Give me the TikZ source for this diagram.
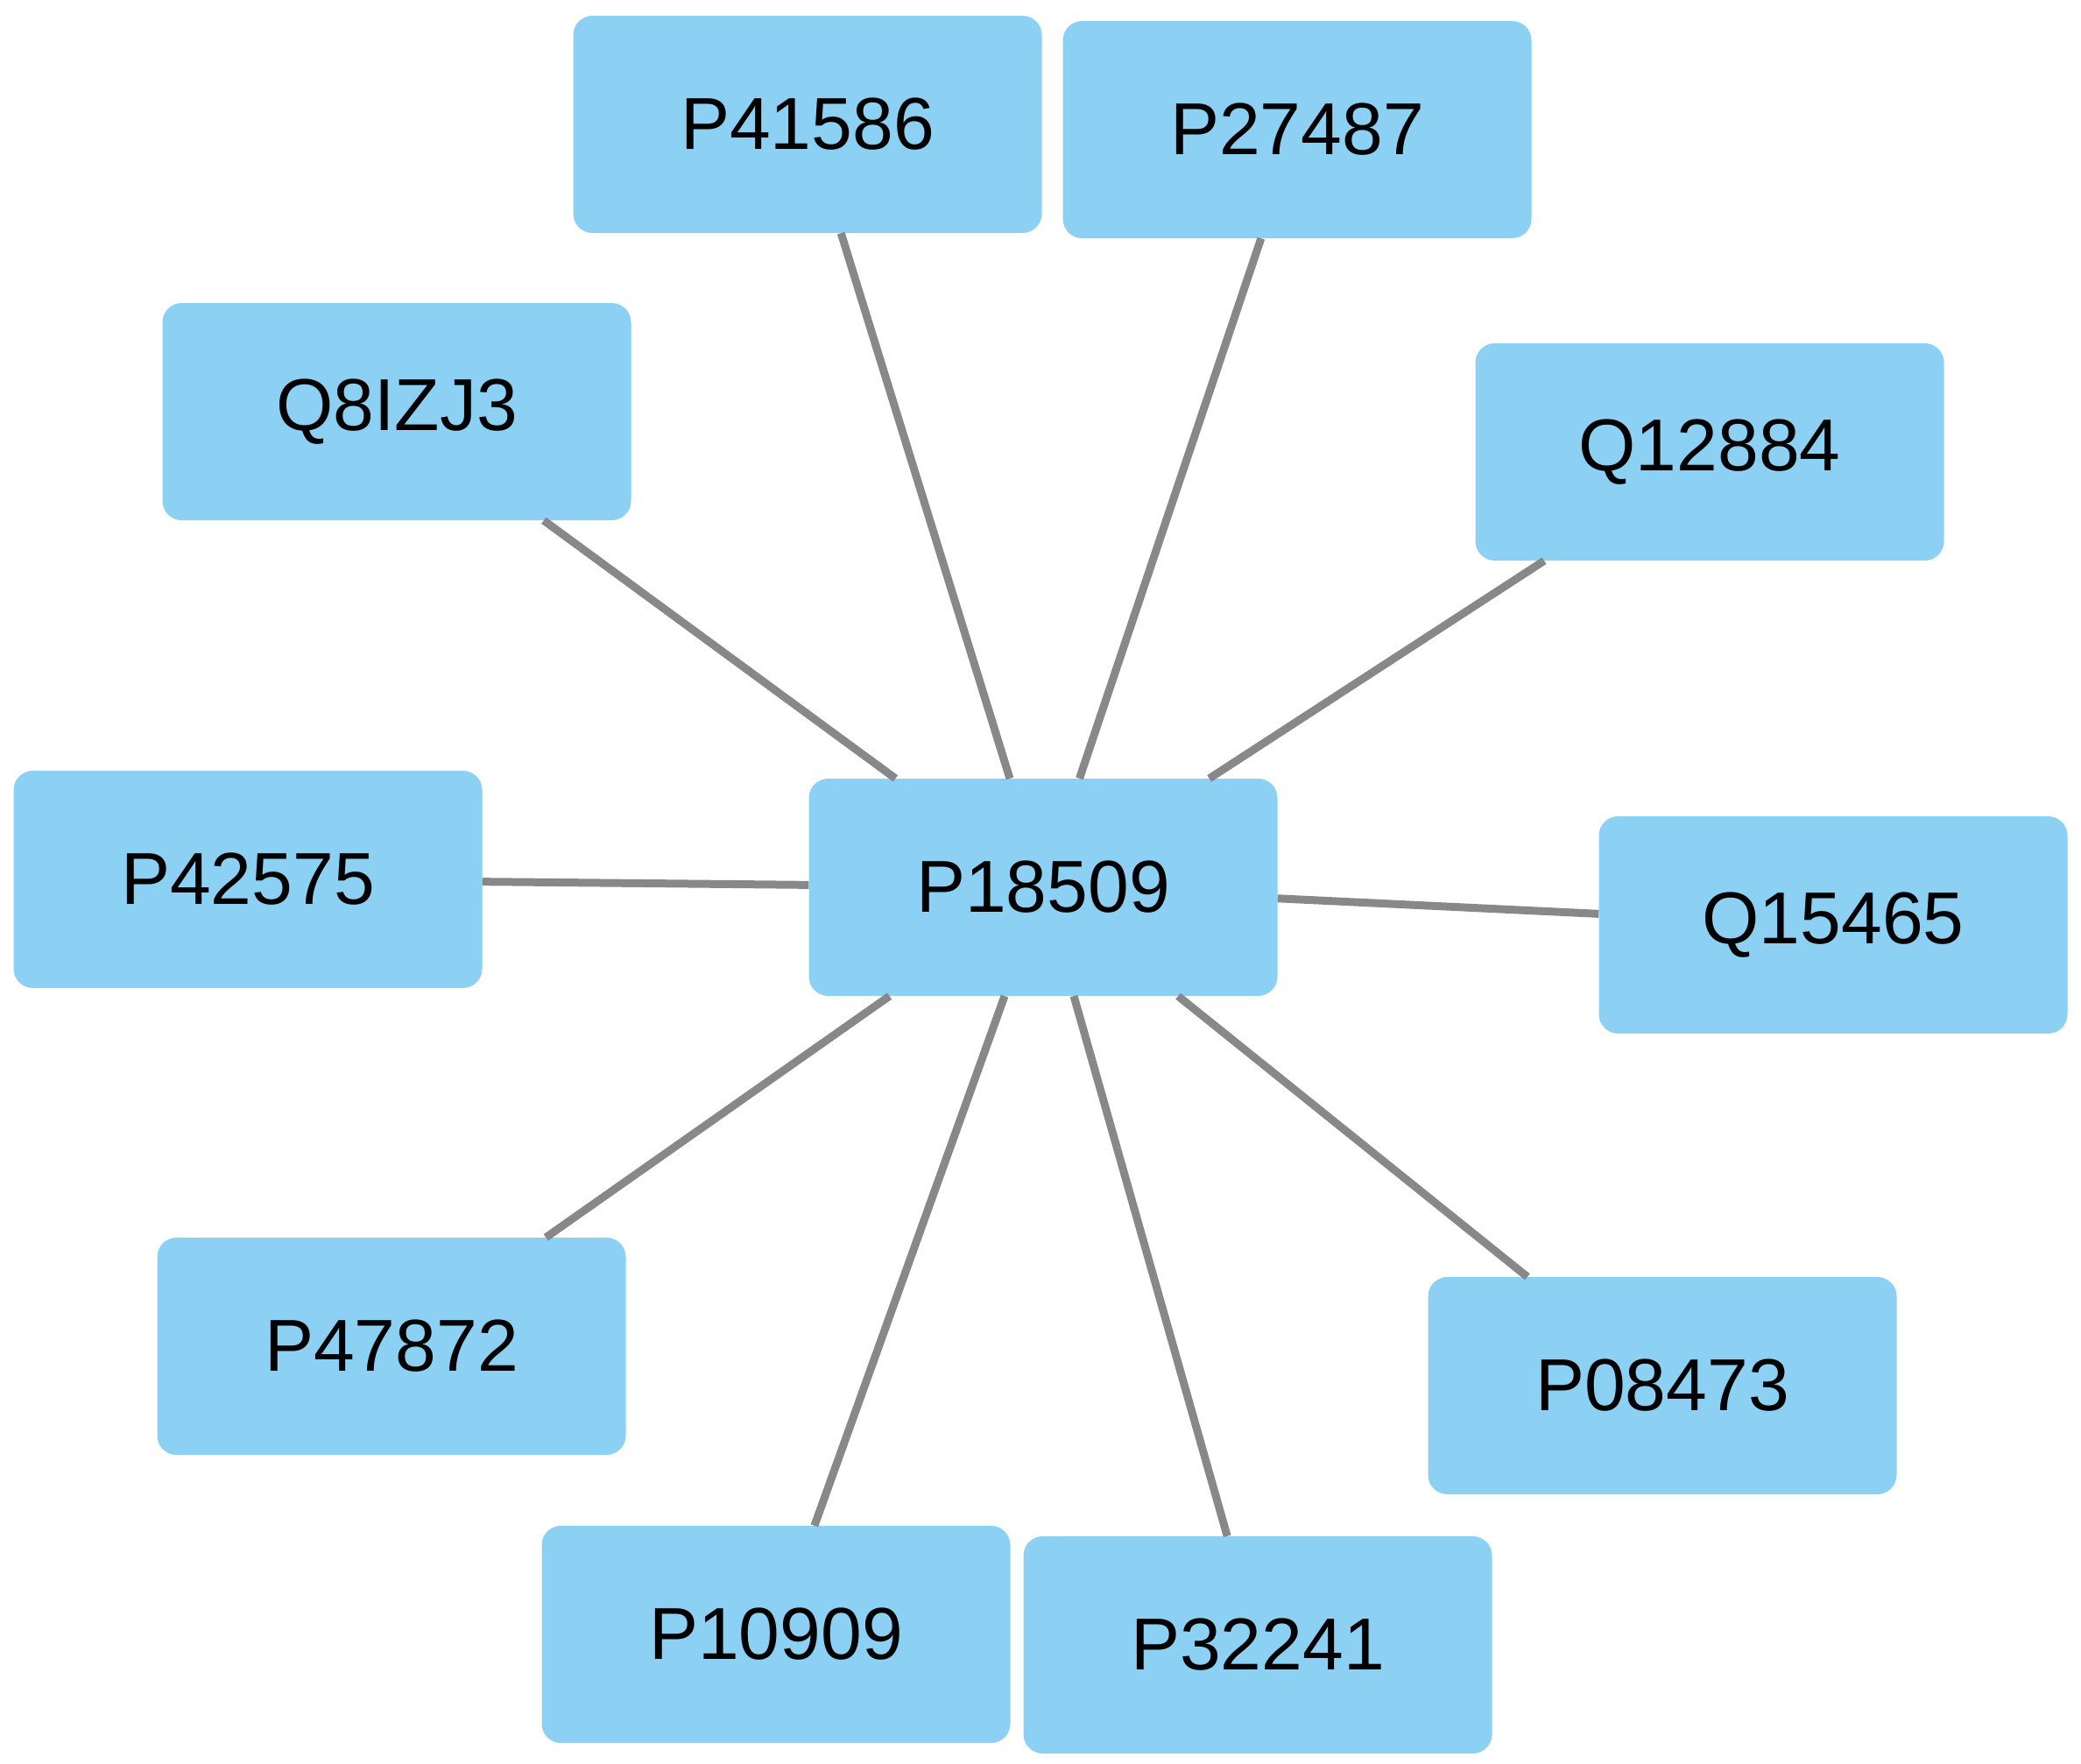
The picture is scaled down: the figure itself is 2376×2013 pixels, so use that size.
\documentclass[tikz,border=0pt]{standalone}
\usepackage{fontspec}
\setmainfont{Liberation Sans}
\begin{document}
\begin{tikzpicture}[x=1pt,y=-1pt,
  prot/.style={draw=none,fill={rgb,255:red,140;green,208;blue,243},rounded corners=22pt,minimum width=535pt,minimum height=248pt,inner sep=0pt,font=\fontsize{84}{100}\selectfont},
  edge/.style={draw={rgb,255:red,136;green,136;blue,136},line width=9pt}]
\useasboundingbox (0,0) rectangle (2376,2013);
\node[prot] (c) at (1191,1013) {P18509};
\node[prot] (a1) at (922,142) {P41586};
\node[prot] (a2) at (1481,148) {P27487};
\node[prot] (a3) at (453,470) {Q8IZJ3};
\node[prot] (a4) at (1952,516) {Q12884};
\node[prot] (a5) at (283,1004) {P42575};
\node[prot] (a6) at (2093,1056) {Q15465};
\node[prot] (a7) at (447,1537) {P47872};
\node[prot] (a8) at (1898,1582) {P08473};
\node[prot] (a9) at (886,1866) {P10909};
\node[prot] (a10) at (1436,1878) {P32241};
\foreach \n in {a1,a2,a3,a4,a5,a6,a7,a8,a9,a10} \draw[edge] (c) -- (\n);
\end{tikzpicture}
\end{document}
